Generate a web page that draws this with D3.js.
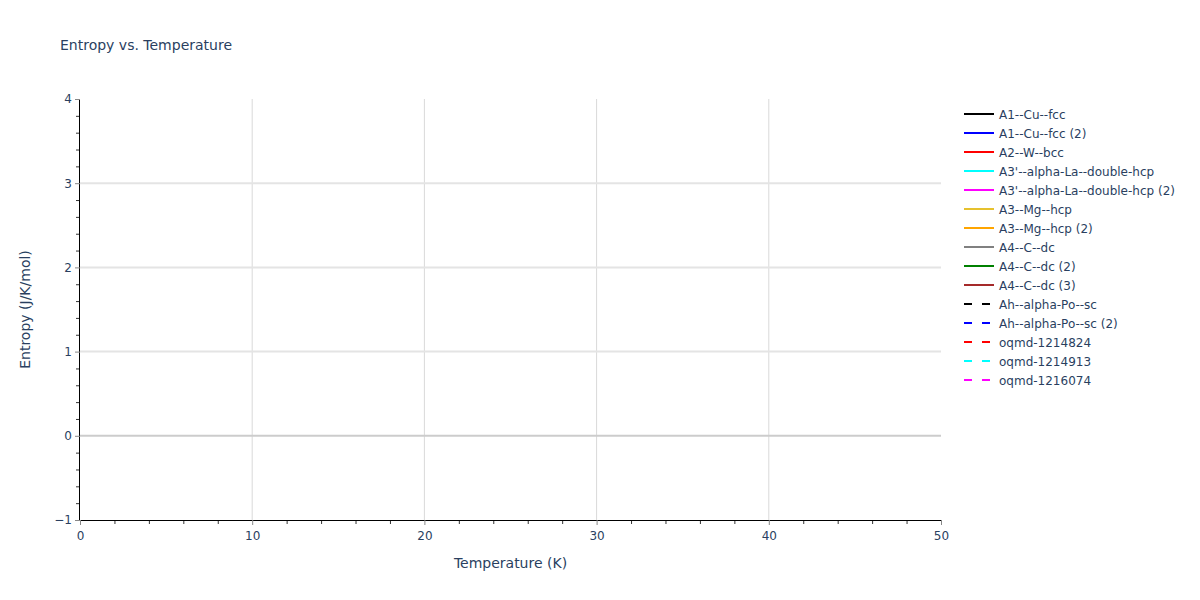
<!DOCTYPE html>
<html>
<head>
<meta charset="utf-8">
<script src="https://cdn.jsdelivr.net/npm/d3@7"></script>
<style>
  body { margin: 0; background: #fff; }
  svg text { font-family: "DejaVu Sans", Verdana, sans-serif; fill: #2a3f5f; }
</style>
</head>
<body>
<svg id="chart" width="1200" height="600"></svg>
<script>
// axis ranges and ticks
const xDomain = [0, 50];
const yDomain = [-1, 4];
const xMajorTicks = [0, 10, 20, 30, 40, 50];
const yMajorTicks = [-1, 0, 1, 2, 3, 4];
const xMinorStep = 2;
const yMinorStep = 0.2;

// series names, colours and dash, as in the legend
const seriesNames = [
  "A1--Cu--fcc", "A1--Cu--fcc (2)", "A2--W--bcc", "A3'--alpha-La--double-hcp",
  "A3'--alpha-La--double-hcp (2)", "A3--Mg--hcp", "A3--Mg--hcp (2)", "A4--C--dc",
  "A4--C--dc (2)", "A4--C--dc (3)", "Ah--alpha-Po--sc", "Ah--alpha-Po--sc (2)",
  "oqmd-1214824", "oqmd-1214913", "oqmd-1216074"
];
const seriesColors = [
  "#000000", "#0000ff", "#ff0000", "#00ffff", "#ff00ff", "#e6c12e", "#ffa500",
  "#808080", "#008000", "#a52a2a", "#000000", "#0000ff", "#ff0000", "#00ffff", "#ff00ff"
];
const seriesDashed = [false, false, false, false, false, false, false, false, false, false,
  true, true, true, true, true];

// no trace has points inside the visible range, so every series is empty
const temperature = [];
const entropyValues = seriesNames.map(() => []);

const svg = d3.select("#chart");
const margin = { left: 80, right: 259, top: 99, bottom: 80 };
const width = 1200 - margin.left - margin.right;
const height = 600 - margin.top - margin.bottom;

const x = d3.scaleLinear().domain(xDomain).range([margin.left, margin.left + width]);
const y = d3.scaleLinear().domain(yDomain).range([margin.top + height, margin.top]);

// title
svg.append("text")
  .attr("x", 60).attr("y", 50)
  .style("font-size", "14px")
  .text("Entropy vs. Temperature");

// grid
svg.append("g").selectAll("line")
  .data(xMajorTicks.filter(d => d > xDomain[0] && d < xDomain[1]))
  .join("line")
  .attr("x1", d => x(d)).attr("x2", d => x(d))
  .attr("y1", margin.top).attr("y2", margin.top + height)
  .attr("stroke", "#d9d9d9").attr("stroke-width", 1);

svg.append("g").selectAll("line")
  .data(yMajorTicks.filter(d => d > yDomain[0] && d < yDomain[1] && d !== 0))
  .join("line")
  .attr("x1", margin.left).attr("x2", margin.left + width)
  .attr("y1", d => y(d)).attr("y2", d => y(d))
  .attr("stroke", "#e4e4e4").attr("stroke-width", 2);

// zero line
svg.append("line")
  .attr("x1", margin.left).attr("x2", margin.left + width)
  .attr("y1", y(0)).attr("y2", y(0))
  .attr("stroke", "#cccccc").attr("stroke-width", 2);

// traces
const line = d3.line()
  .x((d, i) => x(temperature[i]))
  .y(d => y(d));

svg.append("g").selectAll("path")
  .data(entropyValues)
  .join("path")
  .attr("fill", "none")
  .attr("stroke", (d, i) => seriesColors[i])
  .attr("stroke-width", 2)
  .attr("stroke-dasharray", (d, i) => seriesDashed[i] ? "9,9" : null)
  .attr("d", line);

// axes
const xMinor = d3.range(xDomain[0], xDomain[1] + 0.001, xMinorStep)
  .filter(d => !xMajorTicks.includes(d));
const yMinor = d3.range(yDomain[0], yDomain[1] + 0.001, yMinorStep)
  .map(d => Math.round(d * 10) / 10)
  .filter(d => !yMajorTicks.includes(d));

const xAxis = svg.append("g")
  .attr("transform", "translate(0," + (margin.top + height) + ")");
xAxis.append("g")
  .call(d3.axisBottom(x).tickValues(xMinor).tickSize(4).tickFormat(""))
  .call(g => g.select(".domain").remove())
  .call(g => g.selectAll("line").attr("stroke", "#333"));
xAxis.append("g")
  .call(d3.axisBottom(x).tickValues(xMajorTicks).tickSize(5).tickPadding(6).tickFormat(d3.format("d")))
  .call(g => g.select(".domain").attr("stroke", "#000").attr("d", "M" + x(xDomain[0]) + ",0.5H" + x(xDomain[1])))
  .call(g => g.selectAll(".tick line").attr("stroke", "#888"))
  .call(g => g.selectAll("text").style("font-size", "12px").attr("fill", "#2a3f5f"));

const yAxis = svg.append("g")
  .attr("transform", "translate(" + margin.left + ",0)");
yAxis.append("g")
  .call(d3.axisLeft(y).tickValues(yMinor).tickSize(4).tickFormat(""))
  .call(g => g.select(".domain").remove())
  .call(g => g.selectAll("line").attr("stroke", "#333"));
yAxis.append("g")
  .call(d3.axisLeft(y).tickValues(yMajorTicks).tickSize(5).tickPadding(3)
    .tickFormat(d => d < 0 ? "\u2212" + Math.abs(d) : d))
  .call(g => g.select(".domain").attr("stroke", "#000").attr("d", "M-0.5," + y(yDomain[0]) + "V" + y(yDomain[1])))
  .call(g => g.selectAll(".tick line").attr("stroke", "#888"))
  .call(g => g.selectAll("text").style("font-size", "12px").attr("fill", "#2a3f5f"));

// axis titles
svg.append("text")
  .attr("x", margin.left + width / 2).attr("y", 568)
  .attr("text-anchor", "middle")
  .style("font-size", "14px")
  .text("Temperature (K)");

svg.append("text")
  .attr("transform", "translate(30," + (margin.top + height / 2) + ") rotate(-90)")
  .attr("text-anchor", "middle")
  .style("font-size", "14px")
  .text("Entropy (J/K/mol)");

// legend
const legend = svg.append("g").attr("transform", "translate(964,114)");
const item = legend.selectAll("g")
  .data(seriesNames)
  .join("g")
  .attr("transform", (d, i) => "translate(0," + i * 19 + ")");
item.append("line")
  .attr("x1", 0).attr("x2", 30)
  .attr("stroke", (d, i) => seriesColors[i])
  .attr("stroke-width", 2)
  .attr("stroke-dasharray", (d, i) => seriesDashed[i] ? "8,10" : null);
item.append("text")
  .attr("x", 35).attr("y", 4.5)
  .style("font-size", "12px")
  .text(d => d);
</script>
</body>
</html>
